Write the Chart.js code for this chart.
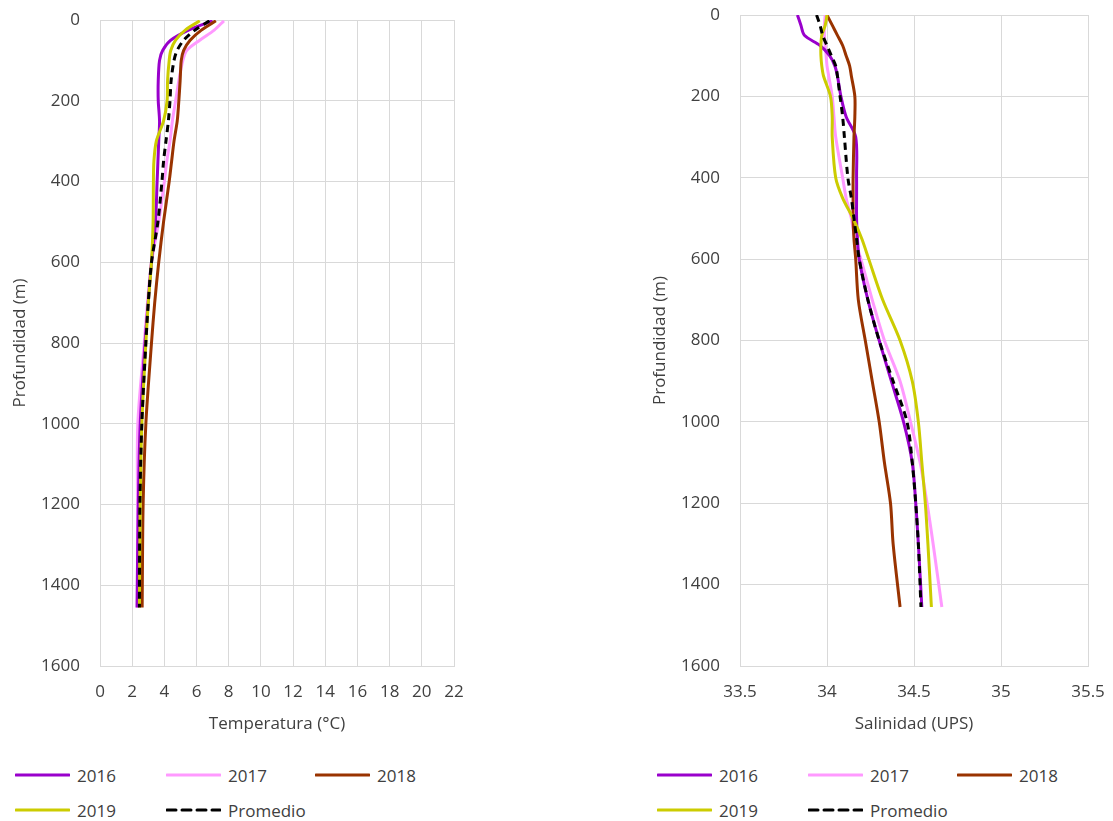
<!DOCTYPE html>
<html>
<head>
<meta charset="utf-8">
<script src="https://cdn.jsdelivr.net/npm/chart.js@4.4.0/dist/chart.umd.min.js"></script>
<style>
  body { margin: 0; width: 1113px; height: 821px; background: #fff; position: relative; overflow: hidden;
         font-family: "Open Sans", sans-serif; }
  .box { position: absolute; top: 0; height: 745px; }
  .leg { position: absolute; height: 24px; display: flex; align-items: center; font-size: 17px; color: #404040; }
  .leg svg { margin-right: 7px; }
</style>
</head>
<body>
<div class="box" style="left:0; width:470px;"><canvas id="tempChart"></canvas></div>
<div class="box" style="left:640px; width:473px;"><canvas id="salChart"></canvas></div>
<div id="legends"></div>
<script>
var years = ['2016', '2017', '2018', '2019', 'Promedio'];
var colors = ['#9900cc', '#ff99ff', '#993300', '#cccc00', '#000000'];

var depthTicks = [0, 200, 400, 600, 800, 1000, 1200, 1400, 1600];
var tempTicks = [0, 2, 4, 6, 8, 10, 12, 14, 16, 18, 20, 22];
var salTicks = [33.5, 34, 34.5, 35, 35.5];
var salTickLabels = ['33.5', '34', '34.5', '35', '35.5'];

// temperatura (°C)
var tempDepth = [2, 25, 50, 75, 100, 150, 200, 250, 300, 350, 400, 500, 600, 700, 800, 1000, 1200, 1455];
var temp2016 = [7.0, 5.5, 4.4, 3.9, 3.7, 3.62, 3.62, 3.7, 3.65, 3.6, 3.55, 3.45, 3.2, 3.0, 2.8, 2.5, 2.38, 2.3];
var temp2017 = [7.7, 7.1, 6.2, 5.4, 5.15, 4.9, 4.7, 4.5, 4.35, 4.15, 4.0, 3.65, 3.2, 2.95, 2.75, 2.35, 2.33, 2.33];
var temp2018 = [7.2, 6.3, 5.6, 5.2, 5.05, 4.98, 4.9, 4.8, 4.6, 4.45, 4.3, 3.95, 3.65, 3.4, 3.2, 2.85, 2.68, 2.62];
var temp2019 = [6.2, 5.3, 4.7, 4.4, 4.3, 4.2, 4.17, 3.95, 3.5, 3.35, 3.32, 3.3, 3.2, 3.0, 2.85, 2.6, 2.5, 2.45];
var tempMean = [6.8, 5.9, 5.2, 4.8, 4.6, 4.42, 4.35, 4.25, 4.1, 3.95, 3.85, 3.6, 3.2, 3.0, 2.85, 2.6, 2.48, 2.45];

// salinidad (UPS)
var salDepth = [0, 25, 50, 75, 100, 125, 150, 200, 250, 300, 400, 450, 500, 550, 600, 700, 800, 900, 1000, 1100, 1200, 1300, 1455];
var sal2016 = [33.83, 33.85, 33.87, 33.96, 34.015, 34.045, 34.06, 34.08, 34.11, 34.165, 34.17, 34.17, 34.17, 34.175, 34.185, 34.235, 34.30, 34.37, 34.44, 34.49, 34.51, 34.525, 34.545];
var sal2017 = [33.99, 33.985, 33.985, 33.99, 33.995, 34.0, 34.01, 34.03, 34.04, 34.05, 34.09, 34.11, 34.14, 34.16, 34.195, 34.26, 34.33, 34.42, 34.48, 34.535, 34.575, 34.61, 34.66];
var sal2018 = [34.0, 34.03, 34.06, 34.09, 34.11, 34.13, 34.14, 34.16, 34.16, 34.155, 34.15, 34.15, 34.15, 34.155, 34.165, 34.18, 34.22, 34.26, 34.30, 34.33, 34.365, 34.38, 34.42];
var sal2019 = [34.0, 33.99, 33.97, 33.965, 33.965, 33.97, 33.98, 34.02, 34.03, 34.03, 34.05, 34.09, 34.15, 34.2, 34.24, 34.32, 34.42, 34.49, 34.525, 34.545, 34.565, 34.58, 34.60];
var salMean = [33.94, 33.96, 33.975, 34.0, 34.025, 34.05, 34.06, 34.075, 34.09, 34.10, 34.12, 34.14, 34.155, 34.17, 34.185, 34.235, 34.30, 34.38, 34.46, 34.49, 34.51, 34.525, 34.54];

Chart.defaults.font.family = '"Open Sans", sans-serif';
Chart.defaults.font.size = 17;
Chart.defaults.color = '#404040';

var drawOrder = [3, 4, 2, 1, 0];

var makeChart = function (id, depth, series, xMin, xMax, xTicks, xLabels, xTitle, pad) {
    var datasets = series.map(function (vals, i) {
        return {
            label: years[i],
            data: vals.map(function (v, k) { return {x: v, y: depth[k]}; }),
            borderColor: colors[i],
            backgroundColor: colors[i],
            borderWidth: 3,
            borderDash: i === 4 ? [7, 5] : [],
            pointRadius: 0,
            showLine: true,
            tension: 0.3,
            order: drawOrder[i]
        };
    });
    return new Chart(document.getElementById(id), {
        type: 'scatter',
        data: {datasets: datasets},
        options: {
            responsive: true,
            maintainAspectRatio: false,
            animation: false,
            layout: {padding: pad},
            plugins: {legend: {display: false}, tooltip: {enabled: false}},
            scales: {
                x: {
                    type: 'linear', min: xMin, max: xMax,
                    afterBuildTicks: function (s) { s.ticks = xTicks.map(function (v) { return {value: v}; }); },
                    afterFit: function (s) { s.height = 79; },
                    grid: {color: '#d9d9d9', tickLength: 16, tickColor: 'rgba(0,0,0,0)'},
                    border: {color: '#d9d9d9'},
                    ticks: {padding: 0, maxRotation: 0, autoSkip: false,
                        callback: function (v, i) { return xLabels[i]; }},
                    title: {display: true, text: xTitle, padding: {top: 0, bottom: 11}}
                },
                y: {
                    type: 'linear', reverse: true, min: 0, max: 1600,
                    afterBuildTicks: function (s) { s.ticks = depthTicks.map(function (v) { return {value: v}; }); },
                    afterFit: function (s) { s.width = 100; },
                    grid: {color: '#d9d9d9', tickLength: 20, tickColor: 'rgba(0,0,0,0)'},
                    border: {color: '#d9d9d9'},
                    ticks: {padding: 0, callback: function (v) { return String(v); }},
                    title: {display: true, text: 'Profundidad (m)', padding: {top: 10, bottom: 0}}
                }
            }
        }
    });
};

makeChart('tempChart', tempDepth, [temp2016, temp2017, temp2018, temp2019, tempMean],
    0, 22, tempTicks, tempTicks.map(String), 'Temperatura (°C)', {top: 20, right: 16, left: 0, bottom: 0});
makeChart('salChart', salDepth, [sal2016, sal2017, sal2018, sal2019, salMean],
    33.5, 35.5, salTicks, salTickLabels, 'Salinidad (UPS)', {top: 15, right: 25, left: 0, bottom: 0});

// leyendas
var legX = [15, 166, 315, 15, 166];
var legY = [775, 775, 775, 810, 810];
var legends = document.getElementById('legends');
[0, 642].forEach(function (base) {
    years.forEach(function (name, i) {
        var item = document.createElement('div');
        item.className = 'leg';
        item.style.left = (base + legX[i]) + 'px';
        item.style.top = (legY[i] - 12) + 'px';
        var dash = i === 4 ? ' stroke-dasharray="9 6"' : '';
        item.innerHTML = '<svg width="55" height="6"><line x1="1" y1="3" x2="54" y2="3" stroke="' + colors[i] +
            '" stroke-width="3" stroke-linecap="round"' + dash + '/></svg><span>' + name + '</span>';
        legends.appendChild(item);
    });
});
</script>
</body>
</html>
